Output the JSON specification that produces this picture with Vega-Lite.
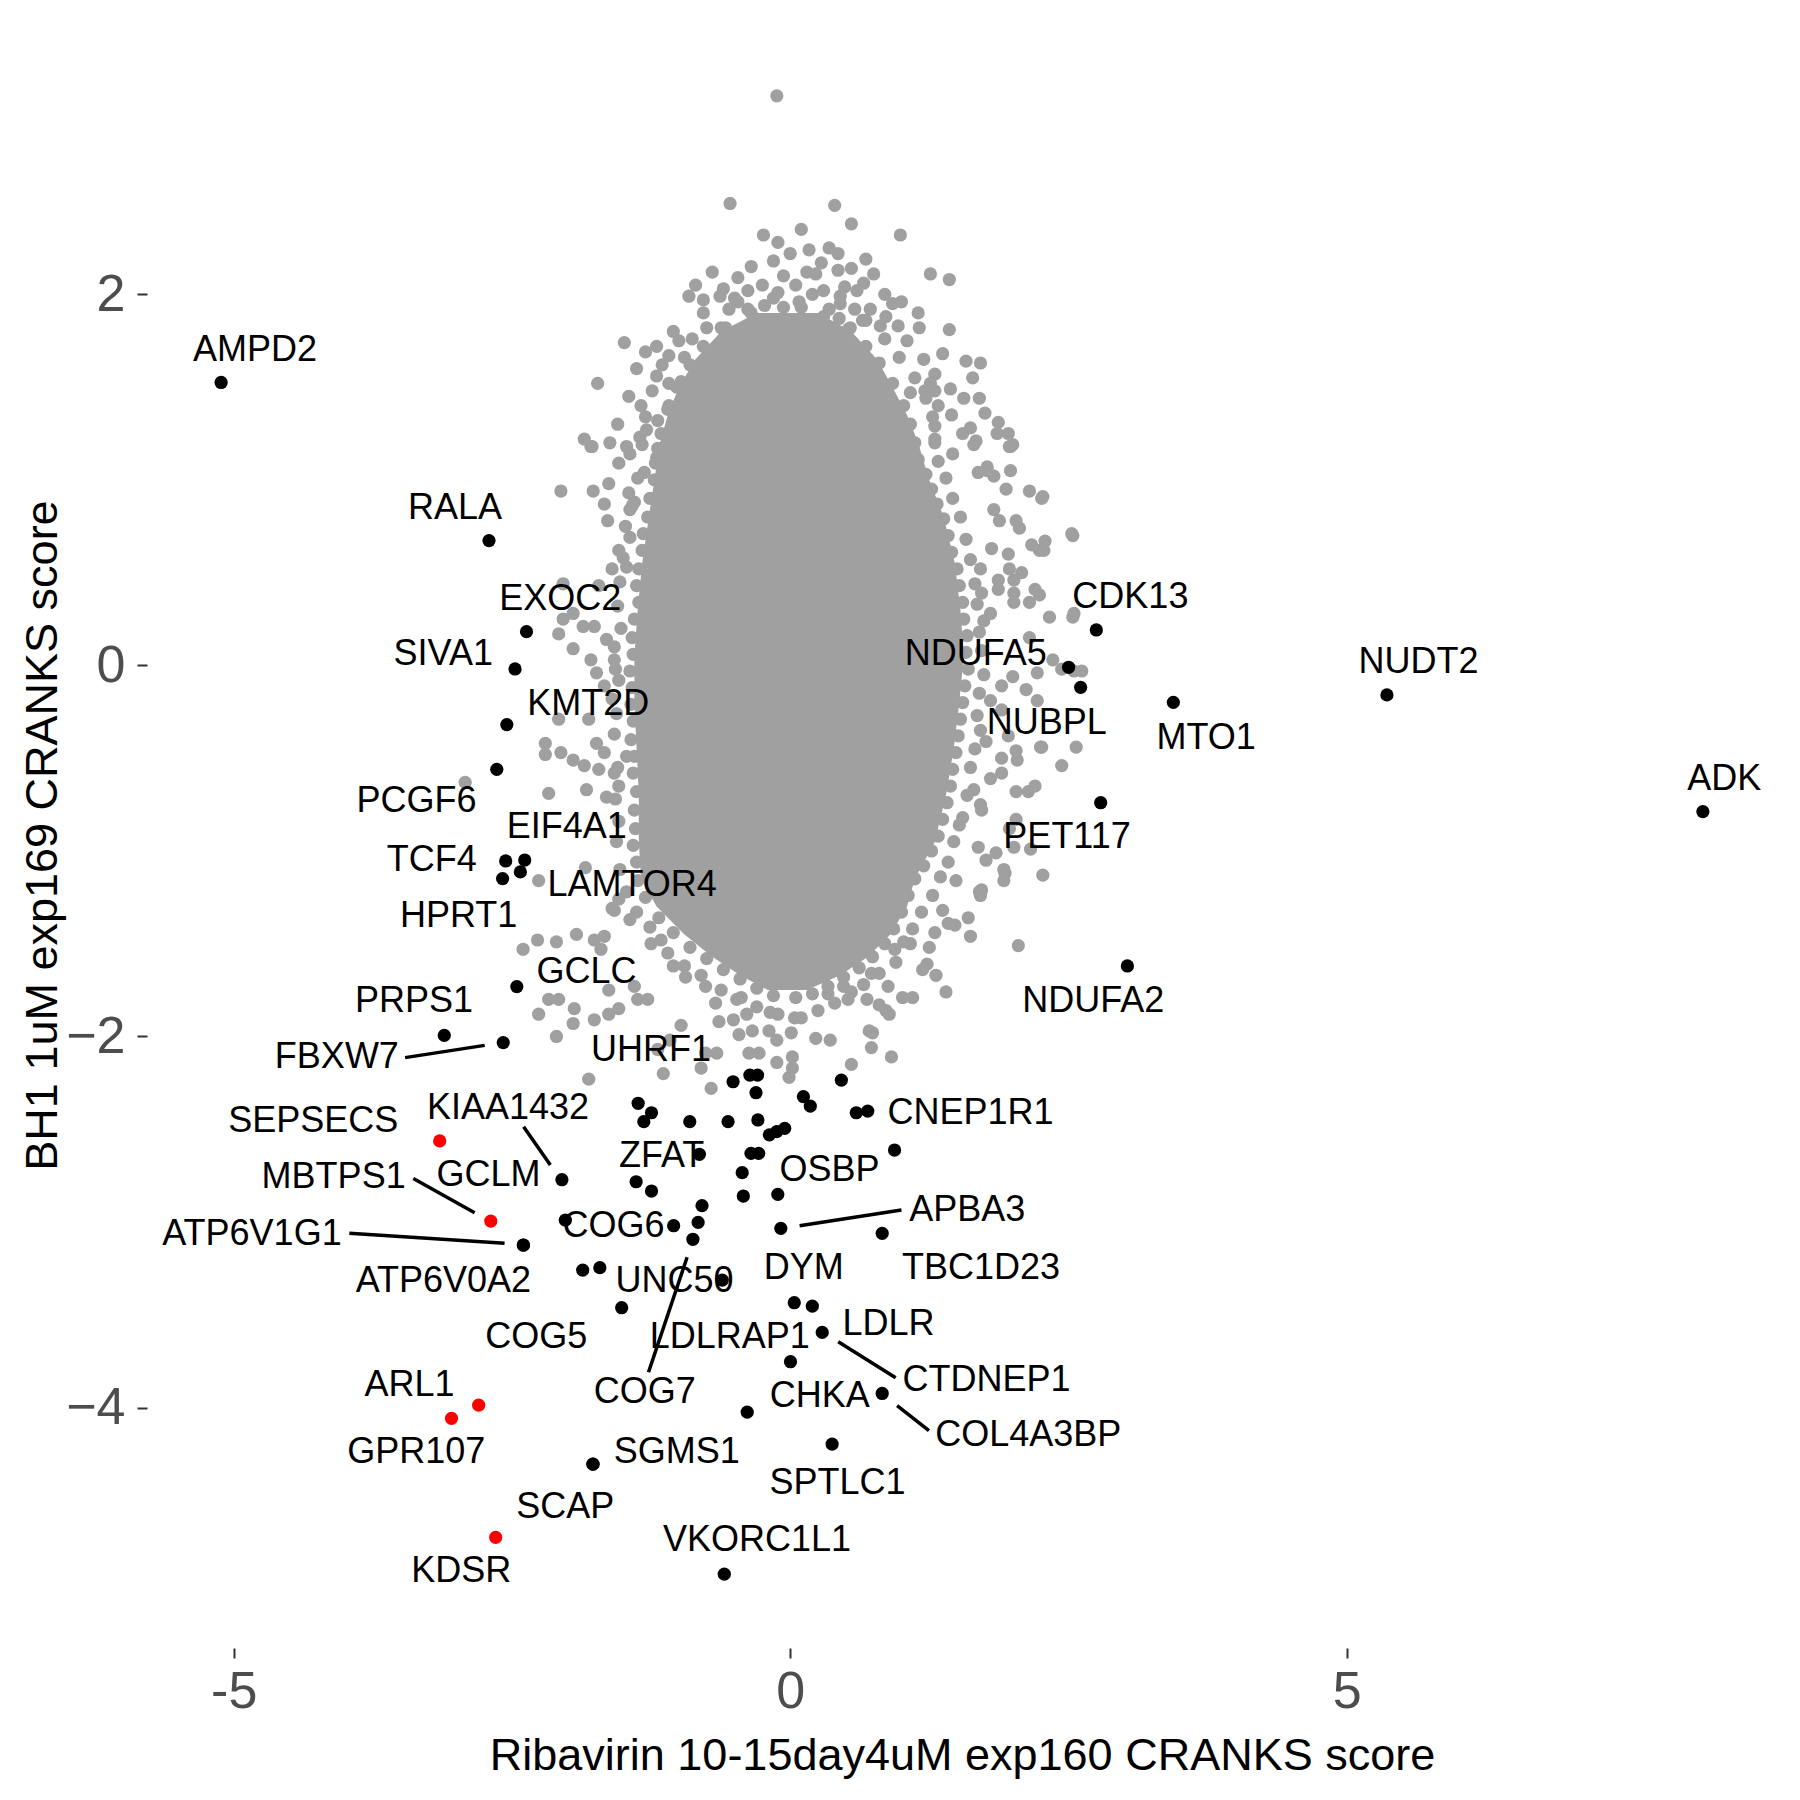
{
  "$schema": "https://vega.github.io/schema/vega-lite/v6.json",
  "width": 1630,
  "height": 1626,
  "autosize": {"type": "none"},
  "padding": {"left": 147, "top": 22, "right": 23, "bottom": 152},
  "background": "white",
  "config": {"view": {"stroke": null}, "font": "Liberation Sans"},
  "datasets": {
    "core": [
      {"y": 1.90, "x": -0.30, "xe": 0.25}, {"y": 1.80, "x": -0.62, "xe": 0.55}, {"y": 1.65, "x": -0.85, "xe": 0.78},
      {"y": 1.50, "x": -1.00, "xe": 0.92}, {"y": 1.35, "x": -1.10, "xe": 1.05}, {"y": 1.20, "x": -1.17, "xe": 1.15},
      {"y": 1.00, "x": -1.22, "xe": 1.25}, {"y": 0.80, "x": -1.27, "xe": 1.38}, {"y": 0.55, "x": -1.33, "xe": 1.48},
      {"y": 0.30, "x": -1.37, "xe": 1.53}, {"y": 0.05, "x": -1.40, "xe": 1.56}, {"y": -0.20, "x": -1.40, "xe": 1.52},
      {"y": -0.45, "x": -1.38, "xe": 1.47}, {"y": -0.70, "x": -1.36, "xe": 1.40}, {"y": -0.95, "x": -1.36, "xe": 1.30},
      {"y": -1.15, "x": -1.34, "xe": 1.12}, {"y": -1.30, "x": -1.20, "xe": 1.05}, {"y": -1.45, "x": -0.95, "xe": 0.90},
      {"y": -1.57, "x": -0.70, "xe": 0.70}, {"y": -1.67, "x": -0.45, "xe": 0.45}, {"y": -1.75, "x": -0.20, "xe": 0.15}
    ],
    "cloud": [
      {"x":-0.12,"y":3.07},{"x":-0.54,"y":2.49},{"x":0.40,"y":2.48},{"x":0.55,"y":2.38},{"x":0.99,"y":2.32},{"x":-0.24,"y":2.32},{"x":-0.11,"y":2.28},{"x":0.10,"y":2.35},{"x":0.17,"y":2.24},{"x":0.43,"y":2.22},
      {"x":0.28,"y":2.17},{"x":0.23,"y":2.11},{"x":0.43,"y":2.13},{"x":0.55,"y":2.14},{"x":0.68,"y":2.19},{"x":0.75,"y":2.11},{"x":0.66,"y":2.06},{"x":0.49,"y":2.04},{"x":0.45,"y":1.99},{"x":-0.47,"y":2.09},
      {"x":-0.38,"y":2.02},{"x":-0.47,"y":1.96},{"x":-0.91,"y":1.99},{"x":-0.78,"y":1.97},{"x":-0.63,"y":1.99},{"x":-0.06,"y":2.10},{"x":-0.11,"y":2.01},{"x":-0.23,"y":1.94},{"x":-0.06,"y":1.93},{"x":1.26,"y":2.11},
      {"x":1.43,"y":2.08},{"x":1.00,"y":1.96},{"x":1.15,"y":1.90},{"x":1.16,"y":1.82},{"x":1.43,"y":1.81},{"x":0.58,"y":1.92},{"x":0.72,"y":1.92},{"x":0.86,"y":1.88},{"x":0.81,"y":1.83},{"x":0.97,"y":1.83},
      {"x":0.44,"y":1.87},{"x":0.27,"y":1.86},{"x":0.54,"y":1.82},{"x":0.12,"y":1.82},{"x":-0.03,"y":1.85},{"x":-0.58,"y":1.82},{"x":-0.88,"y":1.76},{"x":-1.49,"y":1.74},{"x":-1.30,"y":1.69},{"x":-1.09,"y":1.67},
      {"x":-0.95,"y":1.66},{"x":-1.73,"y":1.52},{"x":-1.20,"y":1.56},{"x":-1.09,"y":1.52},{"x":-0.98,"y":1.53},{"x":-0.80,"y":1.56},{"x":-0.73,"y":1.55},{"x":-1.34,"y":1.40},{"x":-1.09,"y":1.40},{"x":-1.19,"y":1.32},
      {"x":-0.91,"y":1.37},{"x":-0.96,"y":1.31},{"x":-1.85,"y":1.22},{"x":-1.78,"y":1.18},{"x":-1.35,"y":1.23},{"x":-1.29,"y":1.27},{"x":-1.19,"y":1.17},{"x":-1.03,"y":1.23},{"x":-1.47,"y":1.18},{"x":-1.54,"y":1.09},
      {"x":-1.21,"y":1.09},{"x":1.37,"y":1.68},{"x":1.58,"y":1.64},{"x":1.71,"y":1.63},{"x":1.64,"y":1.55},{"x":1.30,"y":1.57},{"x":1.26,"y":1.52},{"x":1.44,"y":1.49},{"x":1.21,"y":1.48},{"x":1.56,"y":1.44},
      {"x":1.33,"y":1.40},{"x":1.75,"y":1.36},{"x":1.87,"y":1.31},{"x":1.62,"y":1.28},{"x":1.96,"y":1.25},{"x":1.86,"y":1.25},{"x":1.98,"y":1.18},{"x":1.67,"y":1.21},{"x":1.46,"y":1.14},{"x":1.77,"y":1.07},
      {"x":1.30,"y":1.22},{"x":1.08,"y":1.47},{"x":1.30,"y":1.29},
      {"x":1.70,"y":1.44},{"x":2.00,"y":1.19},{"x":1.98,"y":1.05},{"x":1.77,"y":1.05},{"x":2.27,"y":0.91},{"x":2.06,"y":0.74},{"x":2.53,"y":0.71},{"x":2.28,"y":0.62},{"x":1.97,"y":0.52},{"x":2.24,"y":0.38},
      {"x":2.55,"y":0.28},{"x":1.87,"y":0.46},{"x":2.15,"y":0.15},{"x":2.00,"y":-0.06},{"x":2.22,"y":-0.19},{"x":2.57,"y":-0.44},{"x":2.25,"y":-0.44},{"x":1.90,"y":-0.50},{"x":2.14,"y":-0.68},{"x":1.97,"y":-0.88},
      {"x":2.16,"y":-0.99},{"x":2.27,"y":-1.13},{"x":1.93,"y":-1.12},{"x":1.70,"y":-1.22},{"x":2.05,"y":-1.51},{"x":1.42,"y":-1.39},{"x":1.31,"y":-1.67},{"x":0.88,"y":-1.73},{"x":0.86,"y":-1.86},{"x":0.74,"y":-1.98},
      {"x":-1.79,"y":1.18},{"x":-2.06,"y":0.94},{"x":-1.77,"y":0.94},{"x":-1.67,"y":0.87},{"x":-1.64,"y":0.78},{"x":-1.40,"y":0.88},{"x":-1.44,"y":0.84},{"x":-1.63,"y":0.98},{"x":-1.44,"y":1.14},{"x":-1.31,"y":1.04},
      {"x":-1.44,"y":0.69},{"x":-1.54,"y":0.62},{"x":-1.60,"y":0.52},{"x":-1.47,"y":0.53},{"x":-1.72,"y":0.43},{"x":-2.04,"y":0.25},{"x":-2.08,"y":0.17},{"x":-1.95,"y":0.28},{"x":-1.86,"y":0.21},{"x":-1.95,"y":0.09},
      {"x":-1.76,"y":0.21},{"x":-1.79,"y":0.03},{"x":-1.74,"y":-0.04},{"x":-1.65,"y":0.14},{"x":-1.58,"y":0.03},{"x":-1.67,"y":-0.11},{"x":-1.54,"y":-0.08},{"x":-2.08,"y":-0.29},{"x":-1.81,"y":-0.29},{"x":-2.20,"y":-0.42},
      {"x":-2.20,"y":-0.48},{"x":-2.06,"y":-0.47},{"x":-1.95,"y":-0.51},{"x":-1.85,"y":-0.54},{"x":-1.74,"y":-0.42},{"x":-1.67,"y":-0.47},{"x":-1.72,"y":-0.56},{"x":-1.58,"y":-0.58},{"x":-2.17,"y":-0.69},{"x":-1.83,"y":-0.67},
      {"x":-1.65,"y":-0.71},{"x":-1.54,"y":-0.65},{"x":-1.47,"y":-0.49},
      {"x":1.97,"y":1.18},{"x":1.65,"y":1.19},{"x":1.69,"y":1.04},{"x":1.83,"y":1.02},{"x":1.94,"y":0.95},{"x":2.15,"y":0.94},{"x":2.26,"y":0.90},{"x":1.83,"y":0.84},{"x":1.88,"y":0.78},{"x":2.03,"y":0.78},
      {"x":2.54,"y":0.70},{"x":2.17,"y":0.65},{"x":2.29,"y":0.67},{"x":1.81,"y":0.63},{"x":1.96,"y":0.60},{"x":2.24,"y":0.62},{"x":1.71,"y":0.52},{"x":2.01,"y":0.46},{"x":2.08,"y":0.50},{"x":1.87,"y":0.41},
      {"x":1.72,"y":0.39},{"x":2.01,"y":0.39},{"x":2.20,"y":0.41},{"x":2.01,"y":0.34},{"x":2.15,"y":0.34},{"x":2.33,"y":0.26},{"x":2.54,"y":0.26},{"x":1.80,"y":0.28},{"x":1.74,"y":0.24},{"x":2.36,"y":0.03},
      {"x":2.44,"y":-0.02},{"x":2.22,"y":-0.04},{"x":2.12,"y":-0.13},{"x":1.90,"y":-0.11},{"x":1.80,"y":-0.19},{"x":1.90,"y":-0.24},{"x":1.71,"y":-0.35},{"x":1.76,"y":-0.41},{"x":1.96,"y":-0.38},{"x":2.03,"y":-0.46},
      {"x":2.26,"y":-0.44},{"x":2.44,"y":-0.54},{"x":2.04,"y":-0.51},{"x":1.90,"y":-0.58},{"x":1.80,"y":-0.61},{"x":2.20,"y":-0.65},{"x":2.03,"y":-0.68},{"x":1.65,"y":-0.67},{"x":1.71,"y":-0.75},{"x":2.03,"y":-0.83},
      {"x":1.55,"y":-0.82},{"x":2.55,"y":-0.03},{"x":2.62,"y":-0.03},
      {"x":-2.26,"y":-1.16},{"x":-2.40,"y":-1.53},{"x":-2.27,"y":-1.48},{"x":-2.10,"y":-1.49},{"x":-1.92,"y":-1.45},{"x":-1.76,"y":-1.48},{"x":-1.67,"y":-1.46},{"x":-1.70,"y":-1.53},{"x":-2.17,"y":-1.80},{"x":-2.08,"y":-1.80},
      {"x":-2.26,"y":-1.88},{"x":-1.94,"y":-1.85},{"x":-1.95,"y":-1.93},{"x":-1.76,"y":-1.91},{"x":-1.63,"y":-1.88},{"x":-1.54,"y":-1.85},{"x":-1.37,"y":-1.80},{"x":-1.28,"y":-1.80},{"x":-1.63,"y":-1.75},{"x":-1.40,"y":-1.73},
      {"x":-2.10,"y":-2.00},{"x":-1.81,"y":-2.23},{"x":-1.14,"y":-2.20},{"x":-0.71,"y":-2.28},{"x":-0.98,"y":-1.94},{"x":-1.08,"y":-2.02},{"x":-0.76,"y":-2.09},{"x":-0.66,"y":-2.09},{"x":-1.19,"y":-2.07},{"x":-1.05,"y":-1.62},
      {"x":-0.94,"y":-1.68},{"x":-0.76,"y":-1.73},{"x":-0.67,"y":-1.82},{"x":-0.64,"y":-1.92},{"x":-0.44,"y":-1.79},{"x":-0.39,"y":-1.88},{"x":-0.46,"y":-1.99},{"x":-0.34,"y":-1.97},{"x":-0.19,"y":-1.97},{"x":-0.12,"y":-2.02},
      {"x":-0.28,"y":-2.09},{"x":-0.12,"y":-2.14},{"x":-0.11,"y":-1.88},{"x":0.04,"y":-1.90},{"x":0.02,"y":-2.11},{"x":0.02,"y":-2.17},{"x":0.01,"y":-1.98},{"x":-0.37,"y":-2.09},{"x":-0.51,"y":-1.91},
      {"x":0.23,"y":-2.01},{"x":0.36,"y":-2.02},{"x":0.55,"y":-2.15},{"x":0.73,"y":-2.06},{"x":0.91,"y":-2.11},{"x":0.71,"y":-1.97},{"x":0.69,"y":-1.80},{"x":0.80,"y":-1.83},{"x":0.89,"y":-1.88},{"x":1.01,"y":-1.79},
      {"x":1.10,"y":-1.79},{"x":1.40,"y":-1.76},{"x":1.23,"y":-1.61},{"x":1.19,"y":-1.64},{"x":0.73,"y":-1.66},{"x":0.48,"y":-1.73},{"x":0.34,"y":-1.77},{"x":0.52,"y":-1.80},{"x":1.62,"y":-1.46},{"x":1.60,"y":-1.36},
      {"x":1.48,"y":-1.40},{"x":1.92,"y":-1.16},{"x":1.92,"y":-1.10},{"x":1.71,"y":-1.24},{"x":1.72,"y":-1.21},{"x":1.49,"y":-1.16},{"x":1.85,"y":-1.01},{"x":1.76,"y":-1.05},{"x":1.69,"y":-0.98},{"x":2.01,"y":-0.98},
      {"x":1.72,"y":-0.78},{"x":1.37,"y":-1.32},{"x":1.30,"y":-1.44},{"x":1.25,"y":-1.52},{"x":0.94,"y":-1.53},{"x":1.08,"y":-1.50},
      {"x":-1.42,"y":0.86},{"x":-2.04,"y":0.44},{"x":-2.92,"y":-0.63},{"x":-1.84,"y":-1.09},{"x":-1.60,"y":-1.31},{"x":-0.01,"y":-2.22},{"x":-0.80,"y":-2.17},
      {"x":-1.58,"y":-1.32},{"x":-1.44,"y":-1.37},{"x":-1.26,"y":-1.41},{"x":-1.16,"y":-1.48},{"x":-1.54,"y":-1.26},
      {"x":-0.85,"y":2.05},{"x":-0.70,"y":2.12},{"x":-0.60,"y":2.03},{"x":-0.35,"y":2.15},{"x":-0.25,"y":2.05},{"x":-0.15,"y":2.18},{"x":0.00,"y":2.22},{"x":0.05,"y":2.05},{"x":0.15,"y":2.12},{"x":0.30,"y":2.02},
      {"x":0.35,"y":2.25},{"x":0.60,"y":2.02},{"x":0.85,"y":2.00},{"x":0.92,"y":1.95},{"x":-0.55,"y":1.92},{"x":-0.38,"y":1.92},{"x":-0.15,"y":1.98},{"x":0.08,"y":1.96},{"x":0.35,"y":1.92},{"x":0.65,"y":1.86},
      {"x":-0.75,"y":1.82},{"x":-1.05,"y":1.80},{"x":-1.20,"y":1.72},{"x":-1.38,"y":1.60},{"x":-1.45,"y":1.45},{"x":-1.55,"y":1.30},{"x":-1.62,"y":1.20},{"x":1.05,"y":1.75},{"x":1.20,"y":1.65},{"x":1.30,"y":1.48},
      {"x":1.45,"y":1.35},{"x":1.55,"y":1.25},
      {"x":-0.35,"y":1.90},{"x":-0.62,"y":1.82},{"x":-0.78,"y":1.72},{"x":-0.90,"y":1.62},{"x":-1.02,"y":1.50},{"x":-1.10,"y":1.38},{"x":-1.16,"y":1.25},{"x":-1.20,"y":1.12},{"x":-1.22,"y":1.00},
      {"x":-1.26,"y":0.90},{"x":-1.28,"y":0.80},{"x":-1.32,"y":0.71},{"x":-1.33,"y":0.62},{"x":-1.36,"y":0.52},{"x":-1.38,"y":0.43},{"x":-1.36,"y":0.34},{"x":-1.40,"y":0.25},
      {"x":-1.42,"y":0.15},{"x":-1.41,"y":0.06},{"x":-1.44,"y":-0.03},{"x":-1.42,"y":-0.12},{"x":-1.43,"y":-0.21},{"x":-1.41,"y":-0.30},{"x":-1.43,"y":-0.40},{"x":-1.40,"y":-0.49},{"x":-1.41,"y":-0.58},{"x":-1.38,"y":-0.68},
      {"x":-1.40,"y":-0.78},{"x":-1.39,"y":-0.88},{"x":-1.41,"y":-0.97},{"x":-1.38,"y":-1.06},{"x":-1.37,"y":-1.16},{"x":-1.30,"y":-1.25},{"x":-1.18,"y":-1.36},{"x":-1.05,"y":-1.44},{"x":-0.90,"y":-1.52},
      {"x":-0.75,"y":-1.58},{"x":-0.60,"y":-1.64},{"x":-0.45,"y":-1.69},{"x":-0.30,"y":-1.74},{"x":-0.15,"y":-1.78},
      {"x":0.10,"y":1.93},{"x":0.30,"y":1.88},{"x":0.52,"y":1.81},{"x":0.68,"y":1.72},{"x":0.80,"y":1.63},{"x":0.92,"y":1.52},{"x":1.02,"y":1.40},{"x":1.08,"y":1.30},{"x":1.12,"y":1.20},
      {"x":1.15,"y":1.11},{"x":1.22,"y":1.03},{"x":1.27,"y":0.95},{"x":1.32,"y":0.87},{"x":1.38,"y":0.79},{"x":1.42,"y":0.70},{"x":1.45,"y":0.61},{"x":1.50,"y":0.52},{"x":1.52,"y":0.43},
      {"x":1.55,"y":0.34},{"x":1.56,"y":0.25},{"x":1.59,"y":0.16},{"x":1.58,"y":0.07},{"x":1.60,"y":-0.02},{"x":1.57,"y":-0.11},{"x":1.55,"y":-0.20},{"x":1.53,"y":-0.29},{"x":1.51,"y":-0.38},{"x":1.49,"y":-0.47},
      {"x":1.46,"y":-0.56},{"x":1.44,"y":-0.65},{"x":1.41,"y":-0.74},{"x":1.37,"y":-0.83},{"x":1.33,"y":-0.92},{"x":1.27,"y":-1.00},{"x":1.20,"y":-1.08},{"x":1.12,"y":-1.15},{"x":1.06,"y":-1.24},{"x":1.00,"y":-1.33},
      {"x":0.93,"y":-1.42},{"x":0.85,"y":-1.50},{"x":0.74,"y":-1.57},{"x":0.62,"y":-1.63},{"x":0.48,"y":-1.68},{"x":0.34,"y":-1.73},{"x":0.20,"y":-1.77},{"x":0.05,"y":-1.79},
      {"x":-0.50,"y":1.98},{"x":-0.78,"y":1.90},{"x":-1.00,"y":1.75},{"x":-1.15,"y":1.62},{"x":-1.24,"y":1.48},{"x":-1.30,"y":1.34},{"x":-1.33,"y":1.19},{"x":-1.37,"y":1.01},{"x":-1.45,"y":0.93},{"x":-1.48,"y":0.75},
      {"x":-1.50,"y":0.58},{"x":-1.53,"y":0.45},{"x":-1.55,"y":0.32},{"x":-1.52,"y":0.20},{"x":-1.58,"y":0.10},{"x":-1.57,"y":-0.02},{"x":-1.60,"y":-0.18},{"x":-1.56,"y":-0.26},{"x":-1.58,"y":-0.37},{"x":-1.55,"y":-0.55},
      {"x":-1.57,"y":-0.72},{"x":-1.54,"y":-0.84},{"x":-1.56,"y":-0.95},{"x":-1.53,"y":-1.10},{"x":-1.47,"y":-1.22},{"x":-1.38,"y":-1.33},{"x":-1.25,"y":-1.50},{"x":-1.10,"y":-1.55},{"x":-0.95,"y":-1.62},{"x":-0.80,"y":-1.67},
      {"x":-0.62,"y":-1.75},{"x":-0.48,"y":-1.80},{"x":-0.30,"y":-1.84},{"x":-0.18,"y":-1.87},
      {"x":0.20,"y":2.00},{"x":0.45,"y":1.95},{"x":0.68,"y":1.86},{"x":0.85,"y":1.76},{"x":0.98,"y":1.66},{"x":1.12,"y":1.55},{"x":1.22,"y":1.44},{"x":1.28,"y":1.34},{"x":1.30,"y":1.20},{"x":1.33,"y":1.10},
      {"x":1.40,"y":1.01},{"x":1.46,"y":0.90},{"x":1.53,"y":0.80},{"x":1.58,"y":0.68},{"x":1.62,"y":0.57},{"x":1.66,"y":0.44},{"x":1.68,"y":0.33},{"x":1.70,"y":0.18},{"x":1.72,"y":0.08},{"x":1.74,"y":-0.05},
      {"x":1.70,"y":-0.15},{"x":1.68,"y":-0.27},{"x":1.66,"y":-0.45},{"x":1.62,"y":-0.55},{"x":1.59,"y":-0.70},{"x":1.52,"y":-0.86},{"x":1.47,"y":-0.95},{"x":1.42,"y":-1.06},{"x":1.35,"y":-1.14},{"x":1.28,"y":-1.24},
      {"x":1.18,"y":-1.33},{"x":1.10,"y":-1.42},{"x":1.02,"y":-1.49},{"x":0.95,"y":-1.60},{"x":0.80,"y":-1.66},{"x":0.66,"y":-1.72},{"x":0.55,"y":-1.76},{"x":0.40,"y":-1.82},{"x":0.25,"y":-1.86},{"x":0.10,"y":-1.90}
    ],
    "genes": [
      {"gene":"AMPD2","x":-5.113,"y":1.525,"lx":-4.808,"ly":1.701,"grp":"hit"},
      {"gene":"RALA","x":-2.706,"y":0.673,"lx":-3.011,"ly":0.847,"grp":"hit"},
      {"gene":"EXOC2","x":-2.369,"y":0.182,"lx":-2.065,"ly":0.358,"grp":"hit"},
      {"gene":"SIVA1","x":-2.472,"y":-0.019,"lx":-3.117,"ly":0.060,"grp":"hit"},
      {"gene":"KMT2D","x":-2.546,"y":-0.319,"lx":-1.814,"ly":-0.208,"grp":"hit"},
      {"gene":"PCGF6","x":-2.636,"y":-0.560,"lx":-3.358,"ly":-0.730,"grp":"hit"},
      {"gene":"TCF4","x":-2.556,"y":-1.054,"lx":-3.220,"ly":-1.049,"grp":"hit"},
      {"gene":"EIF4A1","x":-2.385,"y":-1.049,"lx":-2.007,"ly":-0.869,"grp":"hit"},
      {"gene":"HPRT1","x":-2.584,"y":-1.149,"lx":-2.979,"ly":-1.350,"grp":"hit"},
      {"gene":"LAMTOR4","x":-2.424,"y":-1.113,"lx":-1.420,"ly":-1.183,"grp":"hit"},
      {"gene":"GCLC","x":-2.456,"y":-1.731,"lx":-1.830,"ly":-1.655,"grp":"hit"},
      {"gene":"PRPS1","x":-3.108,"y":-1.994,"lx":-3.380,"ly":-1.809,"grp":"hit"},
      {"gene":"FBXW7","x":-2.578,"y":-2.033,"lx":-4.073,"ly":-2.113,"grp":"hit"},
      {"gene":"SEPSECS","x":-3.149,"y":-2.563,"lx":-4.286,"ly":-2.453,"grp":"focus"},
      {"gene":"KIAA1432","x":-2.051,"y":-2.772,"lx":-2.535,"ly":-2.384,"grp":"hit"},
      {"gene":"MBTPS1","x":-2.690,"y":-2.995,"lx":-4.102,"ly":-2.760,"grp":"focus"},
      {"gene":"GCLM","x":-2.020,"y":-2.990,"lx":-2.711,"ly":-2.746,"grp":"hit"},
      {"gene":"ATP6V1G1","x":-2.397,"y":-3.124,"lx":-4.836,"ly":-3.066,"grp":"hit"},
      {"gene":"ATP6V0A2","x":-2.397,"y":-3.124,"lx":-3.116,"ly":-3.316,"grp":"hit"},
      {"gene":"COG6","x":-1.047,"y":-3.020,"lx":-1.587,"ly":-3.019,"grp":"hit"},
      {"gene":"UHRF1","x":-1.366,"y":-2.360,"lx":-1.250,"ly":-2.072,"grp":"hit"},
      {"gene":"ZFAT","x":-0.816,"y":-2.635,"lx":-1.155,"ly":-2.646,"grp":"hit"},
      {"gene":"CNEP1R1","x":0.697,"y":-2.402,"lx":1.620,"ly":-2.413,"grp":"hit"},
      {"gene":"OSBP","x":-0.283,"y":-2.630,"lx":0.354,"ly":-2.720,"grp":"hit"},
      {"gene":"APBA3","x":-0.084,"y":-3.034,"lx":1.592,"ly":-2.937,"grp":"hit"},
      {"gene":"DYM","x":0.037,"y":-3.435,"lx":0.123,"ly":-3.246,"grp":"hit"},
      {"gene":"TBC1D23","x":0.827,"y":-3.061,"lx":1.714,"ly":-3.246,"grp":"hit"},
      {"gene":"UNC50","x":-0.610,"y":-3.313,"lx":-1.039,"ly":-3.320,"grp":"hit"},
      {"gene":"COG5","x":-1.514,"y":-3.462,"lx":-2.282,"ly":-3.620,"grp":"hit"},
      {"gene":"COG7","x":-0.874,"y":-3.093,"lx":-1.306,"ly":-3.917,"grp":"hit"},
      {"gene":"LDLRAP1","x":0.003,"y":-3.753,"lx":-0.542,"ly":-3.618,"grp":"hit"},
      {"gene":"LDLR","x":0.199,"y":-3.453,"lx":0.883,"ly":-3.551,"grp":"hit"},
      {"gene":"CTDNEP1","x":0.288,"y":-3.595,"lx":1.765,"ly":-3.850,"grp":"hit"},
      {"gene":"CHKA","x":-0.386,"y":-4.025,"lx":0.267,"ly":-3.938,"grp":"hit"},
      {"gene":"COL4A3BP","x":0.827,"y":-3.924,"lx":2.140,"ly":-4.148,"grp":"hit"},
      {"gene":"SPTLC1","x":0.377,"y":-4.197,"lx":0.425,"ly":-4.404,"grp":"hit"},
      {"gene":"SGMS1","x":-1.772,"y":-4.305,"lx":-1.020,"ly":-4.239,"grp":"hit"},
      {"gene":"SCAP","x":-1.772,"y":-4.305,"lx":-2.020,"ly":-4.536,"grp":"hit"},
      {"gene":"VKORC1L1","x":-0.592,"y":-4.898,"lx":-0.298,"ly":-4.715,"grp":"hit"},
      {"gene":"ARL1","x":-2.799,"y":-3.987,"lx":-3.420,"ly":-3.880,"grp":"focus"},
      {"gene":"GPR107","x":-3.043,"y":-4.058,"lx":-3.359,"ly":-4.239,"grp":"focus"},
      {"gene":"KDSR","x":-2.646,"y":-4.700,"lx":-2.955,"ly":-4.880,"grp":"focus"},
      {"gene":"CDK13","x":2.751,"y":0.191,"lx":3.057,"ly":0.370,"grp":"hit"},
      {"gene":"NDUFA5","x":2.502,"y":-0.010,"lx":1.668,"ly":0.063,"grp":"hit"},
      {"gene":"NUBPL","x":2.610,"y":-0.118,"lx":2.306,"ly":-0.312,"grp":"hit"},
      {"gene":"MTO1","x":3.443,"y":-0.199,"lx":3.738,"ly":-0.389,"grp":"hit"},
      {"gene":"NUDT2","x":5.362,"y":-0.159,"lx":5.646,"ly":0.018,"grp":"hit"},
      {"gene":"PET117","x":2.790,"y":-0.740,"lx":2.488,"ly":-0.926,"grp":"hit"},
      {"gene":"NDUFA2","x":3.030,"y":-1.620,"lx":2.724,"ly":-1.808,"grp":"hit"},
      {"gene":"ADK","x":8.201,"y":-0.788,"lx":8.393,"ly":-0.611,"grp":"hit"},
      {"gene":"","x":-0.513,"y":-2.244,"grp":"hit"},{"gene":"","x":-0.362,"y":-2.208,"grp":"hit"},{"gene":"","x":-0.293,"y":-2.208,"grp":"hit"},
      {"gene":"","x":-0.307,"y":-2.303,"grp":"hit"},{"gene":"","x":0.460,"y":-2.235,"grp":"hit"},{"gene":"","x":-1.246,"y":-2.411,"grp":"hit"},
      {"gene":"","x":-1.315,"y":-2.459,"grp":"hit"},{"gene":"","x":-0.902,"y":-2.459,"grp":"hit"},{"gene":"","x":-0.558,"y":-2.459,"grp":"hit"},
      {"gene":"","x":-0.290,"y":-2.450,"grp":"hit"},{"gene":"","x":0.119,"y":-2.324,"grp":"hit"},{"gene":"","x":0.181,"y":-2.375,"grp":"hit"},
      {"gene":"","x":0.594,"y":-2.411,"grp":"hit"},{"gene":"","x":-0.187,"y":-2.530,"grp":"hit"},{"gene":"","x":-0.121,"y":-2.513,"grp":"hit"},
      {"gene":"","x":-0.049,"y":-2.495,"grp":"hit"},{"gene":"","x":0.938,"y":-2.612,"grp":"hit"},{"gene":"","x":-0.352,"y":-2.630,"grp":"hit"},
      {"gene":"","x":-0.431,"y":-2.734,"grp":"hit"},{"gene":"","x":-1.384,"y":-2.783,"grp":"hit"},{"gene":"","x":-1.246,"y":-2.833,"grp":"hit"},
      {"gene":"","x":-0.421,"y":-2.860,"grp":"hit"},{"gene":"","x":-0.111,"y":-2.851,"grp":"hit"},{"gene":"","x":-0.792,"y":-2.912,"grp":"hit"},
      {"gene":"","x":-0.827,"y":-3.002,"grp":"hit"},{"gene":"","x":-1.864,"y":-3.259,"grp":"hit"},{"gene":"","x":-1.710,"y":-3.246,"grp":"hit"}
    ],
    "segments": [
      {"gene":"FBXW7","x":-3.460,"y":-2.114,"xe":-2.745,"ye":-2.048},
      {"gene":"KIAA1432","x":-2.395,"y":-2.486,"xe":-2.155,"ye":-2.693},
      {"gene":"MBTPS1","x":-3.386,"y":-2.765,"xe":-2.835,"ye":-2.950},
      {"gene":"ATP6V1G1","x":-3.961,"y":-3.061,"xe":-2.566,"ye":-3.115},
      {"gene":"APBA3","x":1.000,"y":-2.935,"xe":0.085,"ye":-3.020},
      {"gene":"COG7","x":-1.273,"y":-3.810,"xe":-0.926,"ye":-3.190},
      {"gene":"CTDNEP1","x":0.948,"y":-3.839,"xe":0.432,"ye":-3.645},
      {"gene":"COL4A3BP","x":1.247,"y":-4.125,"xe":0.961,"ye":-3.990}
    ]
  },
  "encoding": {
    "x": {
      "field": "x", "type": "quantitative",
      "title": "Ribavirin 10-15day4uM exp160 CRANKS score",
      "scale": {"domain": [-5.779, 8.867], "nice": false, "zero": false},
      "axis": {"values": [-5, 0, 5], "grid": false, "domain": false, "tickSize": 10, "tickWidth": 2, "tickColor": "#333333",
               "labelFontSize": 52, "labelColor": "#4D4D4D", "labelPadding": 8, "labelFlush": false, "labelFont": "Liberation Sans",
               "labelExpr": "replace(datum.label, '−', '-')",
               "titleFontSize": 45, "titleFontWeight": "normal", "titleColor": "black", "titleFont": "Liberation Sans", "titlePadding": 16}
    },
    "y": {
      "field": "y", "type": "quantitative",
      "title": "BH1 1uM exp169 CRANKS score",
      "scale": {"domain": [-5.296, 3.468], "nice": false, "zero": false},
      "axis": {"values": [-4, -2, 0, 2], "grid": false, "domain": false, "tickSize": 10, "tickWidth": 2, "tickColor": "#333333",
               "labelFontSize": 52, "labelColor": "#4D4D4D", "labelPadding": 12, "labelFlush": false, "labelFont": "Liberation Sans",
               "titleFontSize": 45, "titleFontWeight": "normal", "titleColor": "black", "titleFont": "Liberation Sans", "titlePadding": 0}
    }
  },
  "layer": [
    {
      "data": {"name": "core"},
      "mark": {"type": "area", "orient": "horizontal", "color": "#A0A0A0", "interpolate": "linear"},
      "encoding": {"x2": {"field": "xe"}}
    },
    {
      "data": {"name": "cloud"},
      "mark": {"type": "circle", "size": 175, "color": "#A0A0A0", "opacity": 1}
    },
    {
      "data": {"name": "segments"},
      "mark": {"type": "rule", "color": "black", "strokeWidth": 3.5},
      "encoding": {"x2": {"field": "xe"}, "y2": {"field": "ye"}}
    },
    {
      "data": {"name": "genes"},
      "mark": {"type": "circle", "size": 175, "opacity": 1},
      "encoding": {
        "color": {"field": "grp", "type": "nominal", "scale": {"domain": ["hit", "focus"], "range": ["#000000", "#FF0000"]}, "legend": null}
      }
    },
    {
      "data": {"name": "genes"},
      "transform": [{"filter": "datum.lx != null"}],
      "mark": {"type": "text", "fontSize": 36, "font": "Liberation Sans", "color": "black", "align": "center", "baseline": "middle"},
      "encoding": {
        "x": {
          "field": "lx", "type": "quantitative",
          "title": "Ribavirin 10-15day4uM exp160 CRANKS score",
          "scale": {"domain": [-5.779, 8.867], "nice": false, "zero": false},
          "axis": {"values": [-5, 0, 5], "grid": false, "domain": false, "tickSize": 10, "tickWidth": 2, "tickColor": "#333333",
                   "labelFontSize": 52, "labelColor": "#4D4D4D", "labelPadding": 8, "labelFlush": false, "labelFont": "Liberation Sans",
                   "labelExpr": "replace(datum.label, '−', '-')",
                   "titleFontSize": 45, "titleFontWeight": "normal", "titleColor": "black", "titleFont": "Liberation Sans", "titlePadding": 16}
        },
        "y": {
          "field": "ly", "type": "quantitative",
          "title": "BH1 1uM exp169 CRANKS score",
          "scale": {"domain": [-5.296, 3.468], "nice": false, "zero": false},
          "axis": {"values": [-4, -2, 0, 2], "grid": false, "domain": false, "tickSize": 10, "tickWidth": 2, "tickColor": "#333333",
                   "labelFontSize": 52, "labelColor": "#4D4D4D", "labelPadding": 12, "labelFlush": false, "labelFont": "Liberation Sans",
                   "titleFontSize": 45, "titleFontWeight": "normal", "titleColor": "black", "titleFont": "Liberation Sans", "titlePadding": 0}
        },
        "text": {"field": "gene"}
      }
    }
  ]
}
